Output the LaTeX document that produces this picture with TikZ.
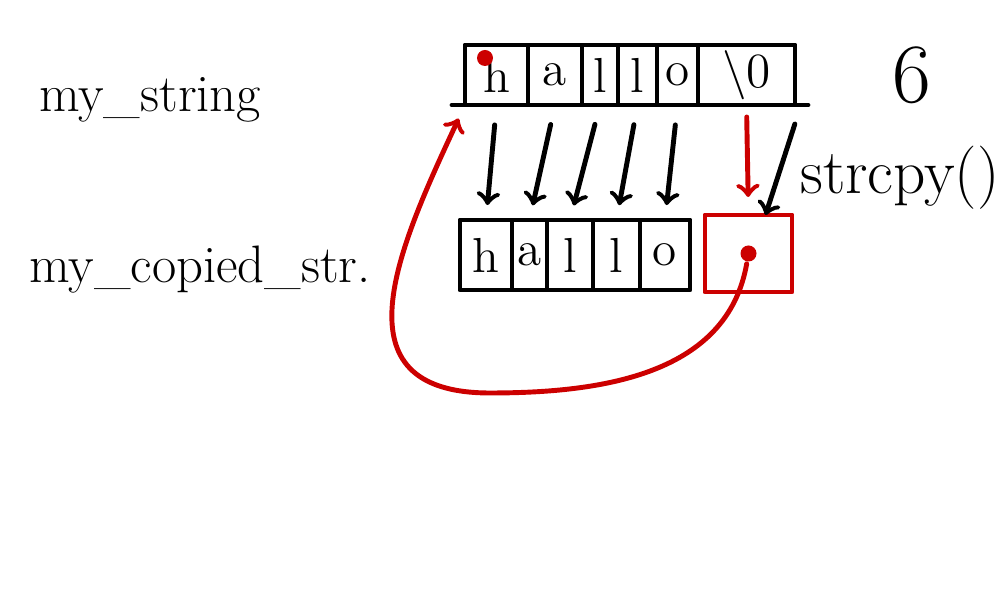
\documentclass[tikz,border=0pt]{standalone}
\usepackage{tikz}
\definecolor{stiftrot}{RGB}{204,0,0}
\tikzset{
  stift/.style={line width=1.4pt, line cap=round, line join=round},
  zelle/.style={stift, draw, rectangle, inner sep=0pt, outer sep=0pt, font=\fontsize{14}{16}\selectfont},
  punkt/.style={circle, fill=stiftrot, inner sep=0pt, minimum size=1.6mm},
  beschriftung/.style={font=\fontsize{15}{18}\selectfont},
}
\begin{document}
\begin{tikzpicture}[x=0.1mm, y=0.1mm, stift]
  \useasboundingbox (0,0) rectangle (1000,600);

  % Beschriftungen
  \node[beschriftung] (name) at (150,500) {my\_string};
  \node[beschriftung] (kopie) at (200,330) {my\_copied\_str.};
  \node[font=\fontsize{24}{28}\selectfont] (laenge) at (912,525) {6};
  \node[font=\fontsize{18}{22}\selectfont] (strcpy) at (900,422) {strcpy()};

  % Array oben (original)
  \foreach \n/\x/\w/\t in {t1/465/63/h, t2/528/54/a, t3/582/36/l, t4/618/39/l, t5/657/41/o, t6/698/97/{\textbackslash 0}} {
    \node[zelle, minimum width=\w*0.1mm, minimum height=6mm, anchor=west] (\n) at (\x,525) {\t};
  }
  \draw[shorten <=-1.3mm, shorten >=-1.3mm] (t1.south west) -- (t6.south east);
  \node[punkt] (zeiger) at ([xshift=2mm,yshift=-1.3mm]t1.north west) {};

  % Array unten (Kopie)
  \foreach \n/\x/\w/\t in {b1/460/52/h, b2/512/35/a, b3/547/46/l, b4/593/47/l, b5/640/50/o} {
    \node[zelle, minimum width=\w*0.1mm, minimum height=7mm, anchor=west] (\n) at (\x,345) {\t};
  }
  \node[zelle, draw=stiftrot, minimum width=8.7mm, minimum height=7.7mm] (rb) at (748.5,346.5) {};
  \node[punkt] (rpunkt) at (rb) {};

  % Kopieren
  \foreach \i in {1,...,5} {
    \draw[->, shorten <=2mm, shorten >=1.5mm] (t\i.south) -- (b\i.north);
  }
  \draw[->, stiftrot, shorten <=1.2mm, shorten >=1.8mm] (t6.south) -- (rb.north);
  \draw[->, shorten <=2mm] ([xshift=0.6mm]t6.south east) -- ([xshift=1.7mm]rb.north);

  % Zeiger zurueck
  \coordinate (unten) at (490,207);
  \draw[->, stiftrot, shorten >=1.5mm] (rpunkt) to[out=-100, in=0] (unten)
    to[out=180, in=-115, looseness=1.4] (t1.south west);
\end{tikzpicture}
\end{document}
